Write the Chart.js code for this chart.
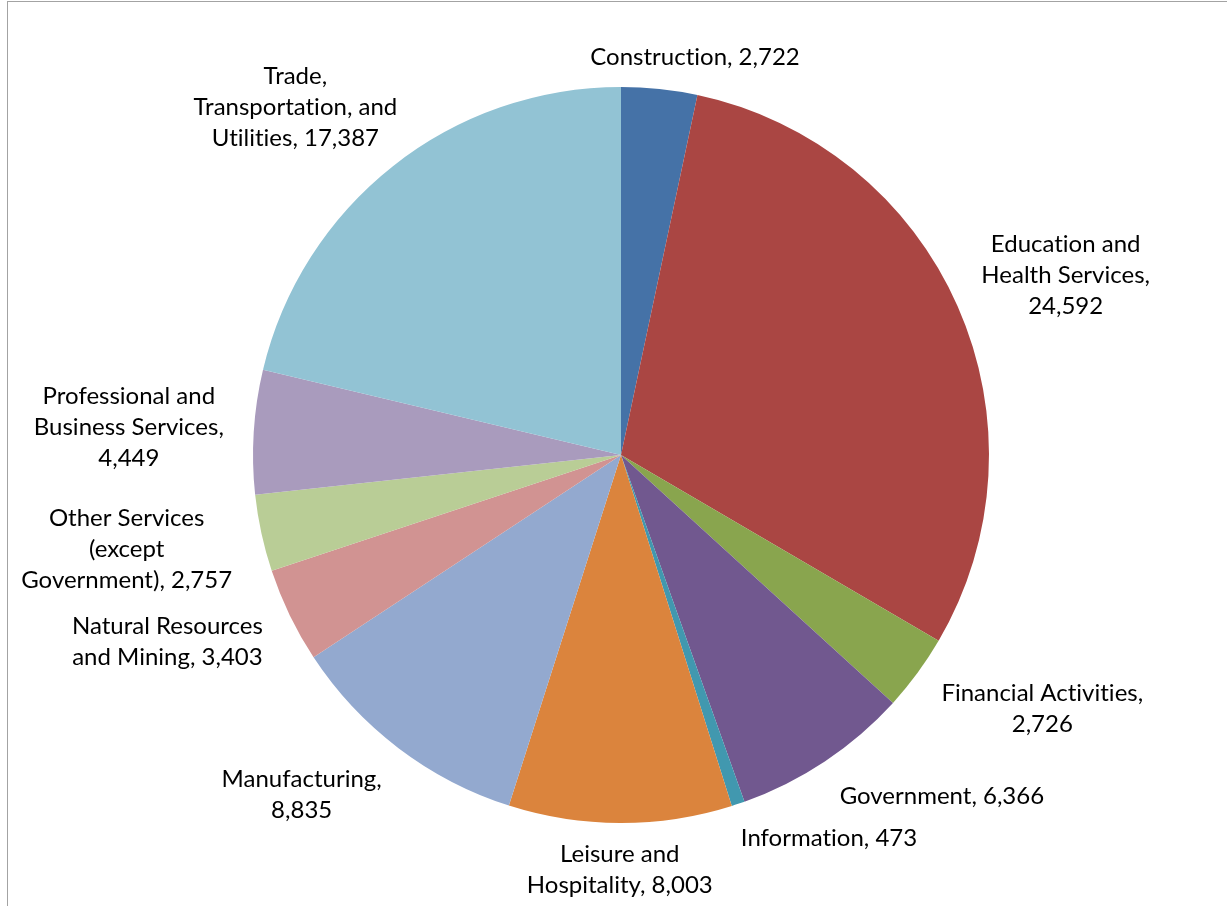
<!DOCTYPE html>
<html>
<head>
<meta charset="utf-8">
<title>Employment by industry</title>
<script src="https://cdn.jsdelivr.net/npm/chart.js@4.4.1/dist/chart.umd.min.js"></script>
<style>
  html, body { margin: 0; padding: 0; background: #fff; }
  #wrap { position: relative; width: 1227px; height: 906px; overflow: hidden; }
  #frame { position: absolute; left: 7px; top: 1px; width: 1400px; height: 1100px;
           border: 1.5px solid #a3a3a3; box-sizing: border-box; pointer-events: none; }
  canvas { position: absolute; left: 0; top: 0; }
</style>
</head>
<body>
<div id="wrap">
  <canvas id="pieChart" width="1227" height="906"></canvas>
  <div id="frame"></div>
</div>
<script>
// Categories in clockwise order from 12 o'clock ('\n' = where the label wraps)
const categories = [
    'Construction',
    'Education and\nHealth Services',
    'Financial Activities',
    'Government',
    'Information',
    'Leisure and\nHospitality',
    'Manufacturing',
    'Natural Resources\nand Mining',
    'Other Services\n(except\nGovernment)',
    'Professional and\nBusiness Services',
    'Trade,\nTransportation, and\nUtilities'
];

const values = [2722, 24592, 2726, 6366, 473, 8003, 8835, 3403, 2757, 4449, 17387];

// value goes on its own line in the label
const valueOnNewLine = [false, true, true, false, false, false, true, false, false, true, false];

const sliceColors = [
    '#4572A7', '#AA4643', '#89A54E', '#71588F', '#4198AF', '#DB843D',
    '#93A9CF', '#D19392', '#B9CD96', '#A99BBD', '#92C3D4'
];

const fmt = v => v.toLocaleString('en-US');

function labelLines(i) {
    const lines = categories[i].split('\n');
    if (valueOnNewLine[i]) {
        lines[lines.length - 1] += ',';
        lines.push(fmt(values[i]));
    } else {
        lines[lines.length - 1] += ', ' + fmt(values[i]);
    }
    // no ti / fi ligatures, the original font has none
    return lines.map(l => l.replace(/([tf])([il])/g, '$1\u200C$2'));
}

// Outside-end labels, placed roughly the way Excel does it
const outsideLabels = {
    id: 'outsideLabels',
    afterDatasetsDraw(chart) {
        const ctx = chart.ctx;
        const meta = chart.getDatasetMeta(0);
        const fontSize = 24;
        const lineH = 31;
        ctx.save();
        ctx.font = fontSize + 'px Lato, "Open Sans", sans-serif';
        ctx.fillStyle = '#000';
        ctx.textAlign = 'center';
        ctx.textBaseline = 'middle';

        // bigger slices get their spot first, small ones move aside
        const order = values.map((v, i) => i).sort((a, b) => values[b] - values[a]);
        const placed = [];
        order.forEach(i => {
            const arc = meta.data[i];
            const mid = (arc.startAngle + arc.endAngle) / 2;
            const dx = Math.cos(mid), dy = Math.sin(mid);
            const lines = labelLines(i);
            const w = Math.max(...lines.map(l => ctx.measureText(l).width));
            const h = lines.length * lineH;
            const gap = 30 - 14 * Math.pow(dy, 8);
            const ax = arc.x + (arc.outerRadius + gap) * dx;
            const ay = arc.y + (arc.outerRadius + gap) * dy;
            // sideways swing of the box: softer on top, almost full below
            const fx = dy > 0 ? Math.max(-1, Math.min(1, 3 * dx))
                              : Math.sign(dx) * Math.sqrt(Math.abs(dx));
            const box = { cx: ax + fx * w / 2, cy: ay + dy * h / 2, w: w, h: h };
            const hits = b => Math.abs(b.cx - box.cx) < (b.w + box.w) / 2 + 8 &&
                              Math.abs(b.cy - box.cy) < (b.h + box.h) / 2;
            let guard = 0;
            while (placed.some(hits) && guard++ < 200) {
                box.cx += dx >= 0 ? 2 : -2;
            }
            placed.push(box);
            lines.forEach((l, k) => {
                ctx.fillText(l, box.cx, box.cy - h / 2 + lineH / 2 + k * lineH);
            });
        });
        ctx.restore();
    }
};

new Chart(document.getElementById('pieChart'), {
    type: 'pie',
    data: {
        labels: categories.map(c => c.replace(/\n/g, ' ')),
        datasets: [{
            data: values,
            backgroundColor: sliceColors,
            borderWidth: 0
        }]
    },
    options: {
        responsive: false,
        devicePixelRatio: 1,
        animation: false,
        layout: { padding: { left: 253, right: 238, top: 87, bottom: 83 } },
        plugins: {
            legend: { display: false },
            tooltip: { enabled: false }
        }
    },
    plugins: [outsideLabels]
});
</script>
</body>
</html>
